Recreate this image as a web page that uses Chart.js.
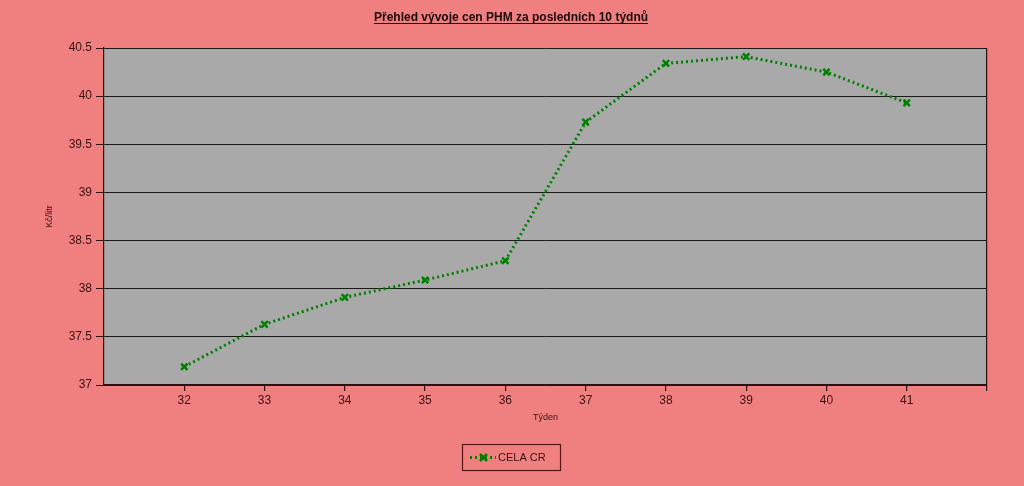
<!DOCTYPE html>
<html>
<head>
<meta charset="utf-8">
<script src="https://cdn.jsdelivr.net/npm/chart.js@4"></script>
<style>
  html, body { margin: 0; padding: 0; background: #F08080; }
  #wrap { width: 1024px; height: 486px; position: relative; }
</style>
</head>
<body>
<div id="wrap"><canvas id="fuelChart" width="1024" height="486"></canvas></div>
<script>
// data
const chartTitle = 'Přehled vývoje cen PHM za posledních 10 týdnů';
const weeks = [32, 33, 34, 35, 36, 37, 38, 39, 40, 41];
const prices = [37.19, 37.63, 37.91, 38.09, 38.29, 39.73, 40.34, 40.41, 40.25, 39.93];
const seriesName = 'CELA CR';
const yTitle = 'Kč/litr';
const xTitle = 'Týden';

const textColor = '#3a1212';
const lineColor = '#008000';
const axisFont = { family: 'Liberation Sans', size: 12 };

// gray plot area
const plotBackground = {
    id: 'plotBackground',
    beforeDraw(chart) {
        const { ctx, chartArea: a } = chart;
        ctx.save();
        ctx.fillStyle = '#A9A9A9';
        ctx.fillRect(a.left, a.top, a.right - a.left, a.bottom - a.top);
        ctx.restore();
    }
};

// underlined title and boxed legend like the original
const decorations = {
    id: 'decorations',
    afterDraw(chart) {
        const { ctx } = chart;
        ctx.save();
        ctx.font = 'bold 12px "Liberation Sans"';
        ctx.fillStyle = '#1a0a0a';
        ctx.textAlign = 'center';
        ctx.textBaseline = 'alphabetic';
        const cx = 511, ty = 21;
        ctx.fillText(chartTitle, cx, ty);
        const w = ctx.measureText(chartTitle).width;
        ctx.strokeStyle = '#1a0a0a';
        ctx.lineWidth = 1;
        ctx.beginPath();
        ctx.moveTo(cx - w / 2, ty + 2.5);
        ctx.lineTo(cx + w / 2, ty + 2.5);
        ctx.stroke();

        // legend
        const lx = 462, ly = 444, lw = 98, lh = 26;
        ctx.strokeStyle = '#5a1616';
        ctx.lineWidth = 1.2;
        ctx.strokeRect(lx + 0.5, ly + 0.5, lw, lh);
        const my = ly + lh / 2 + 0.5;
        ctx.strokeStyle = lineColor;
        ctx.lineWidth = 3;
        ctx.setLineDash([2, 3]);
        ctx.beginPath();
        ctx.moveTo(470, my);
        ctx.lineTo(496, my);
        ctx.stroke();
        ctx.setLineDash([]);
        ctx.lineWidth = 2.5;
        ctx.beginPath();
        ctx.moveTo(480, my - 3.5); ctx.lineTo(487, my + 3.5);
        ctx.moveTo(487, my - 3.5); ctx.lineTo(480, my + 3.5);
        ctx.stroke();
        ctx.font = '11px "Liberation Sans"';
        ctx.fillStyle = textColor;
        ctx.textAlign = 'left';
        ctx.textBaseline = 'middle';
        ctx.fillText(seriesName, 498, my);
        ctx.restore();
    }
};

const ctx = document.getElementById('fuelChart').getContext('2d');
const fuelChart = new Chart(ctx, {
    type: 'line',
    data: {
        datasets: [{
            label: seriesName,
            data: weeks.map((w, i) => ({ x: w, y: prices[i] })),
            borderColor: lineColor,
            backgroundColor: lineColor,
            borderWidth: 3,
            borderDash: [2, 3],
            tension: 0,
            pointStyle: 'crossRot',
            pointRadius: 4.5,
            pointBorderWidth: 2.5,
            pointBorderColor: lineColor
        }]
    },
    options: {
        responsive: false,
        animation: false,
        layout: { padding: { left: 0, top: 48, right: 37, bottom: 0 } },
        plugins: {
            legend: { display: false },
            title: { display: false },
            tooltip: { enabled: false }
        },
        scales: {
            x: {
                type: 'linear',
                min: 31,
                max: 42,
                afterFit: (scale) => { scale.height = 101; },
                ticks: {
                    stepSize: 1,
                    color: textColor,
                    font: axisFont,
                    padding: 2,
                    callback: (v) => (v === 31 || v === 42) ? '' : String(v)
                },
                grid: {
                    drawOnChartArea: true,
                    tickLength: 6,
                    lineWidth: 1.2,
                    color: (c) => c.tick && c.tick.value === 42 ? '#2a1010' : 'rgba(0,0,0,0)',
                    tickColor: (c) => c.tick && c.tick.value === 31 ? 'rgba(0,0,0,0)' : '#2a1010'
                },
                border: { display: true, color: '#2a1010', width: 1.2 },
                title: {
                    display: true,
                    text: xTitle,
                    color: textColor,
                    font: { family: 'Liberation Sans', size: 9 },
                    padding: { top: 0, bottom: 63 }
                }
            },
            y: {
                min: 37,
                max: 40.5,
                afterFit: (scale) => { scale.width = 104; },
                ticks: {
                    stepSize: 0.5,
                    color: textColor,
                    font: axisFont,
                    padding: 4,
                    callback: (v) => String(Math.round(v * 10) / 10)
                },
                grid: {
                    color: '#1a1a1a',
                    lineWidth: 1,
                    tickLength: 8,
                    tickColor: '#2a1010'
                },
                border: { display: true, color: '#2a1010', width: 1.2 },
                title: {
                    display: true,
                    text: yTitle,
                    color: textColor,
                    font: { family: 'Liberation Sans', size: 9 },
                    padding: { top: 44, bottom: 0 }
                }
            }
        }
    },
    plugins: [plotBackground, decorations]
});
</script>
</body>
</html>
